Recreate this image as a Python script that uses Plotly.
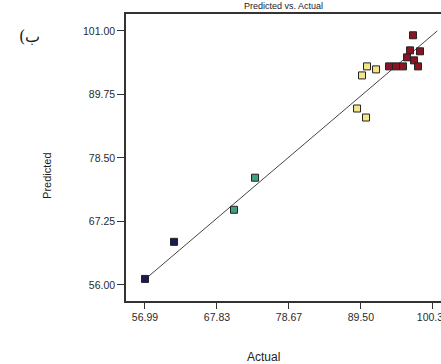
import plotly.graph_objects as go

actual_blue = [56.99, 61.36]
pred_blue = [57.07, 63.64]
actual_teal = [70.39, 73.56]
pred_teal = [69.32, 75.00]
actual_yellow = [88.92, 90.27, 89.67, 90.42, 91.78]
pred_yellow = [87.26, 85.66, 93.12, 94.72, 94.19]
actual_red = [97.35, 96.90, 98.40, 96.45, 97.50, 98.10, 93.74, 94.79, 95.84]
pred_red = [100.23, 97.56, 97.39, 96.32, 95.79, 94.72, 94.72, 94.72, 94.72]

x_ticks = [56.99, 67.83, 78.67, 89.50, 100.34]
x_tick_labels = ["56.99", "67.83", "78.67", "89.50", "100.34"]
y_ticks = [56.00, 67.25, 78.50, 89.75, 101.00]
y_tick_labels = ["56.00", "67.25", "78.50", "89.75", "101.00"]
diag = [56.99, 101.0]

fig = go.Figure()
fig.add_trace(go.Scatter(x=diag, y=diag, mode="lines",
                         line=dict(color="#444444", width=1), showlegend=False))

groups = [
    (actual_blue, pred_blue, "#1a1a55"),
    (actual_teal, pred_teal, "#3f9f84"),
    (actual_yellow, pred_yellow, "#f2e58a"),
    (actual_red, pred_red, "#8a1426"),
]
for xs, ys, c in groups:
    fig.add_trace(go.Scatter(x=xs, y=ys, mode="markers", showlegend=False,
                             marker=dict(symbol="square", size=7, color=c,
                                         line=dict(color="#222222", width=1))))

font = "Liberation Sans, Arial, sans-serif"
fig.update_layout(
    width=441, height=364,
    margin=dict(l=126, r=0, t=14, b=63, autoexpand=False),
    paper_bgcolor="white", plot_bgcolor="white",
    font=dict(family=font, size=10, color="#222222"),
    xaxis=dict(range=[54.13, 101.56], tickmode="array", tickvals=x_ticks,
               ticktext=x_tick_labels, ticks="outside", ticklen=6,
               tickcolor="#333333", showline=True, linecolor="#333333",
               linewidth=1.5, mirror=True, showgrid=False, zeroline=False,
               ticklabeloverflow="allow", automargin=False,
               tickfont=dict(size=10.5, family=font, color="#2a2a2a")),
    yaxis=dict(range=[53.16, 104.0], tickmode="array", tickvals=y_ticks,
               ticktext=y_tick_labels, ticks="outside", ticklen=7,
               tickcolor="#333333", showline=True, linecolor="#333333",
               linewidth=1.5, showgrid=False, zeroline=False, automargin=False,
               tickfont=dict(size=10.5, family=font, color="#2a2a2a")),
    annotations=[
        dict(text="Predicted vs. Actual", xref="paper", yref="paper",
             x=0.5, y=1, yshift=1, xanchor="center", yanchor="bottom",
             showarrow=False, font=dict(size=9, family=font, color="#222222")),
        dict(text="Predicted", xref="paper", yref="paper", x=-0.251, y=0.4355,
             textangle=-90, showarrow=False,
             font=dict(size=11, family=font, color="#222222"),
             xanchor="center", yanchor="middle"),
        dict(text="Actual", xref="paper", yref="paper", x=0.435, y=-0.196,
             showarrow=False, font=dict(size=12, family=font, color="#222222"),
             xanchor="center", yanchor="middle"),
        dict(text="(ب", xref="paper", yref="paper", x=-0.305, y=0.92,
             showarrow=False, font=dict(size=16, family="DejaVu Serif, serif",
                                        color="#222222"),
             xanchor="center", yanchor="middle"),
    ],
)

fig.write_html("out.html", config={"displayModeBar": False},
               post_script="document.body.style.margin='0';")
